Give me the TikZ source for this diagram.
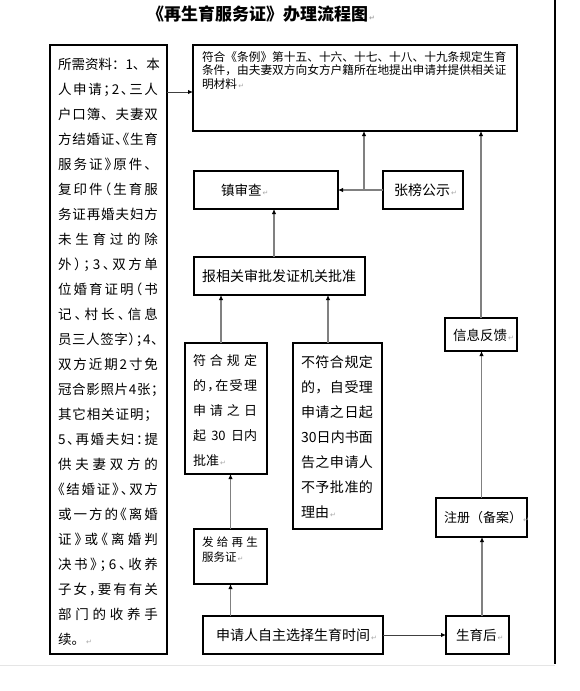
\documentclass[tikz,border=0pt]{standalone}
\usepackage{fontspec}
\newfontfamily\cjk{Noto Sans CJK SC}
\newfontfamily\dejavu{DejaVu Sans}
\usetikzlibrary{arrows.meta}
\ExplSyntaxOn
\NewDocumentCommand\spr{O{100pt}m}{\hbox_to_wd:nn{#1}{\tl_map_inline:nn{#2}{##1\hfil}\unskip}}
\ExplSyntaxOff
\newcommand\hpL[1]{\makebox[0.5em][l]{#1}}
\newcommand\hpR[1]{\makebox[0.5em][r]{#1}}
\newcommand\pmk{{\dejavu\color{gray!70}\fontsize{7}{7}\selectfont\,↵}}
\begin{document}
\begin{tikzpicture}[x=1pt,y=-1pt,
  box/.style={draw, line width=1.1pt, inner sep=0pt, outer sep=0pt},
  txt/.style={inner sep=0pt, outer sep=0pt, align=left},
  garr/.style={draw=gray, line width=1.4pt, -{Latex[length=5pt,width=4.5pt,color=black]}},
  darr/.style={draw=black!75, line width=1pt, -{Latex[length=5pt,width=4.5pt,color=black]}}]
\useasboundingbox (0,0) rectangle (579,691);
% page edges
\draw[line width=2pt] (555,0) -- (555,664);
\draw[gray!20,line width=1pt] (0,665.5) -- (555,665.5);
% title
\node[txt, anchor=west, font=\cjk\bfseries\fontsize{17}{17}\selectfont] (title) at (147,14) {《再生育服务证》办理流程图\pmk};
% boxes
\node[box, minimum width=117pt, minimum height=609pt] (left) at (108.5,349.5) {};
\node[box, minimum width=324pt, minimum height=86pt] (top) at (355,88) {};
\node[box, minimum width=144pt, minimum height=38pt] (zhen) at (266,190) {};
\node[box, minimum width=80pt, minimum height=38pt] (zhang) at (423,190) {};
\node[box, minimum width=171pt, minimum height=38pt] (bao) at (279.5,276) {};
\node[box, minimum width=82pt, minimum height=131pt] (fuhe) at (226,408.5) {};
\node[box, minimum width=89pt, minimum height=186pt] (bufu) at (337.5,436) {};
\node[box, minimum width=73pt, minimum height=55pt] (fage) at (230.5,556.5) {};
\node[box, minimum width=180pt, minimum height=38pt] (sq) at (293,635) {};
\node[box, minimum width=63pt, minimum height=38pt] (sy) at (477.5,635) {};
\node[box, minimum width=91pt, minimum height=39pt] (zc) at (481.5,517.5) {};
\node[box, minimum width=72pt, minimum height=33pt] (xx) at (481,334.5) {};
% texts
\node[txt, anchor=north west, font=\cjk\fontsize{13.5}{25}\selectfont] (lt) at (58,58.5) {%
\spr{所需资料：1、本}\\
\spr{人申请{\hpL{；}}2{\hpL{、}}三人}\\
\spr{户口簿、夫妻双}\\
\spr{方结婚证{\hpL{、}}{\hpR{《}}生育}\\
\spr{服务证{\hpL{》}}原件、}\\
\spr{复印件{\hpR{（}}生育服}\\
\spr{务证再婚夫妇方}\\
\spr{未生育过的除}\\
\spr{外{\hpL{）}}{\hpL{；}}3{\hpL{、}}双方单}\\
\spr{位婚育证明{\hpR{（}}书}\\
\spr{记{\hpL{、}}村长{\hpL{、}}信息}\\
\spr{员三人签字{\hpL{）}}{\hpL{；}}4{\hpL{、}}}\\
\spr{双方近期2寸免}\\
\spr{冠合影照片4张{\hpL{；}}}\\
\spr{其它相关证明；}\\
\spr{5{\hpL{、}}再婚夫妇{\hpL{：}}提}\\
\spr{供夫妻双方的}\\
\spr{{\hpR{《}}结婚证{\hpL{》}}{\hpL{、}}双方}\\
\spr{或一方的{\hpR{《}}离婚}\\
\spr{证{\hpL{》}}或{\hpR{《}}离婚判}\\
\spr{决书{\hpL{》}}{\hpL{；}}6{\hpL{、}}收养}\\
\spr{子女{\hpL{，}}要有有关}\\
\spr{部门的收养手}\\
续。\pmk};
\node[txt, anchor=north west, font=\cjk\fontsize{11.7}{13.3}\selectfont] (tt) at (202,51.5) {符合《条例》第十五、十六、十七、十八、十九条规定生育\\条件，由夫妻双方向女方户籍所在地提出申请并提供相关证\\明材料\pmk};
\node[txt, anchor=west, font=\cjk\fontsize{13.5}{16}\selectfont] (zhent) at (221,190) {镇审查\pmk};
\node[txt, anchor=west, font=\cjk\fontsize{14}{16}\selectfont] (zhangt) at (394,190) {张榜公示\pmk};
\node[txt, anchor=west, font=\cjk\fontsize{14}{16}\selectfont] (baot) at (202,276) {报相关审批发证机关批准};
\node[txt, anchor=north west, font=\cjk\fontsize{13}{25}\selectfont] (ft) at (193,354.9) {\spr[64pt]{符合规定}\\\spr[64pt]{的{\hpL{，}}在受理}\\\spr[64pt]{申请之日}\\\spr[64pt]{起{30}{日内}}\\批准\pmk};
\node[txt, anchor=north west, font=\cjk\fontsize{14}{25}\selectfont] (bt) at (301,355.4) {\spr[72pt]{不符合规定}\\\spr[72pt]{的，自受理}\\\spr[72pt]{申请之日起}\\\spr[72pt]{{30}日内书面}\\\spr[72pt]{告之申请人}\\\spr[72pt]{不予批准的}\\理由\pmk};
\node[txt, anchor=north west, font=\cjk\fontsize{11.5}{15}\selectfont] (fgt) at (202,536.6) {\spr[56pt]{发给再生}\\服务证\pmk};
\node[txt, anchor=west, font=\cjk\fontsize{13.5}{16}\selectfont] (xxt) at (453,335) {信息反馈\pmk};
\node[txt, anchor=west, font=\cjk\fontsize{13}{16}\selectfont] (zct) at (444,518) {注册（备案）\pmk};
\node[txt, anchor=west, font=\cjk\fontsize{14}{16}\selectfont] (sqt) at (216,635) {申请人自主选择生育时间\pmk};
\node[txt, anchor=west, font=\cjk\fontsize{13.5}{16}\selectfont] (syt) at (456,635) {生育后\pmk};
% connectors
\coordinate (la) at ([yshift=-47pt]left.north east);
\draw[darr] (la) -- (la -| top.west);
\draw[garr] (zhang.west) -- (zhen.east);
\coordinate (jn) at ([xshift=-19pt]zhang.west);
\draw[garr] (jn) -- (jn |- top.south);
\coordinate (b1) at ([xshift=-5.5pt]bao.north);
\draw[garr] (b1) -- (b1 |- zhen.south);
\coordinate (f1) at ([xshift=-5pt]fuhe.north);
\draw[garr] (f1) -- (f1 |- bao.south);
\coordinate (u1) at ([xshift=-9.5pt]bufu.north);
\draw[garr] (u1) -- (u1 |- bao.south);
\draw[garr] (fage.north) -- (fage.north |- fuhe.south);
\draw[garr] (fage.south |- sq.north) -- (fage.south);
\draw[darr] (sq.east) -- (sq.east -| sy.west);
\coordinate (s1) at ([xshift=4.5pt]sy.north);
\draw[garr] (s1) -- (s1 |- zc.south);
\draw[garr] (zc.north) -- (zc.north |- xx.south);
\draw[garr] (xx.north) -- (xx.north |- top.south);
\end{tikzpicture}
\end{document}
